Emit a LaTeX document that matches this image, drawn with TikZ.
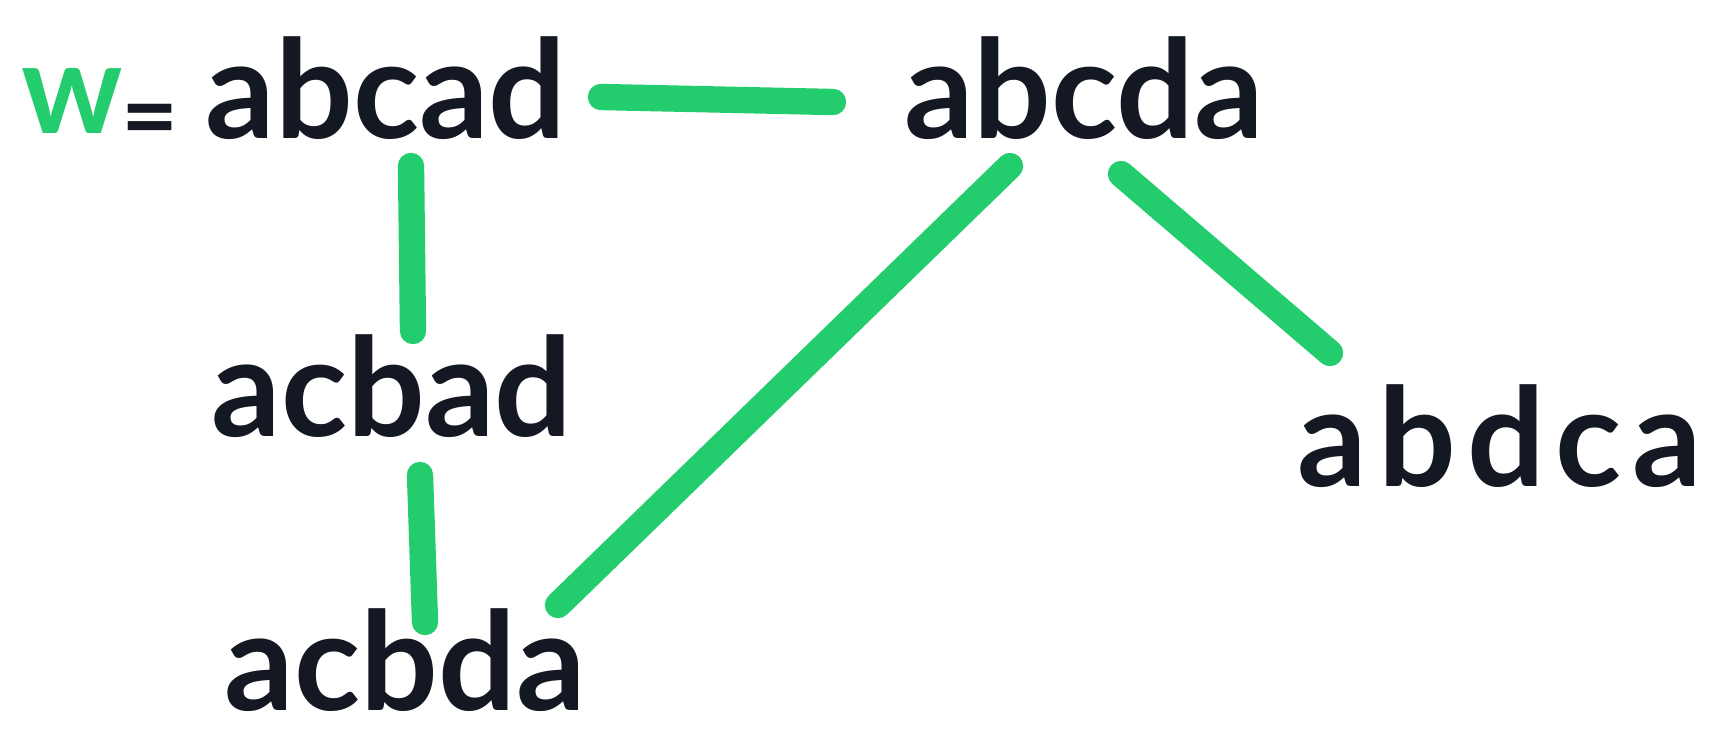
\documentclass[tikz,border=0pt]{standalone}
\usepackage{fontspec}
\setmainfont{Lato}
\usetikzlibrary{calc}
\definecolor{markergreen}{RGB}{35,205,110}
\definecolor{markerblack}{RGB}{20,24,34}

\begin{document}
\begin{tikzpicture}[x=0.02cm,y=-0.02cm,
    word/.style={anchor=base,inner sep=0pt,text=markerblack,
      font=\fontsize{78}{84}\selectfont\bfseries},
    edge/.style={markergreen,line width=15pt,line cap=round}]
    \useasboundingbox (0,0) rectangle (1731,731);
    % words
    \node[word,text=markergreen,font=\fontsize{72}{80}\selectfont\bfseries] (w) at (72,133) {w};
    \node[word,font=\fontsize{56}{60}\selectfont\bfseries] (eq) at (150,150) {=};
    \node[word] (abcad) at (386,138) {abcad};
    \node[word] (abcda) at (1084,138) {abcda};
    \node[word] (acbad) at (392,436) {acbad};
    \node[word,font=\fontsize{78}{84}\selectfont\bfseries\addfontfeature{LetterSpace=8}] (abdca) at (1500,486) {abdca};
    \node[word] (acbda) at (405,710) {acbda};
    % moves
    \draw[edge] ($(abcad.base)+(215,-41)$) -- ($(abcda.base)+(-251,-36)$);
    \draw[edge] ($(abcad.base)+(25,28)$) -- ($(acbad.base)+(21,-105)$);
    \draw[edge] ($(acbad.base)+(28,39)$) -- ($(acbda.base)+(20,-88)$);
    \draw[edge] ($(abcda.base)+(-74,28)$) -- ($(acbda.base)+(153,-105)$);
    \draw[edge] ($(abcda.base)+(37,36)$) -- ($(abdca.base)+(-170,-133)$);
\end{tikzpicture}
\end{document}
